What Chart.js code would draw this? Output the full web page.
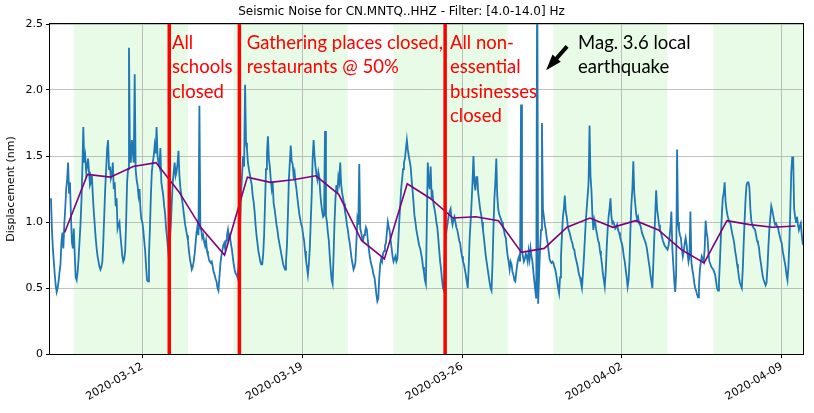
<!DOCTYPE html>
<html><head><meta charset="utf-8">
<script src="https://cdn.jsdelivr.net/npm/chart.js@4.4.0/dist/chart.umd.min.js"></script>
<style>html,body{margin:0;padding:0;background:#fff}canvas{display:block}</style>
</head><body>
<canvas id="c" width="814" height="413"></canvas>
<script>
// ---------------- data ----------------
const chartTitle = 'Seismic Noise for CN.MNTQ..HHZ - Filter: [4.0-14.0] Hz';
const yAxisLabel = 'Displacement (nm)';
// x values are days relative to 2020-03-12 00:00
const tickDays = [0, 7, 14, 21, 28];
const tickLabels = ['2020-03-12', '2020-03-19', '2020-03-26', '2020-04-02', '2020-04-09'];
const xRange = [-4.042, 28.93];
const yRange = [0, 2.5];
const yStep = 0.5;

// hourly noise starting 2020-03-08 00:00 (one row per day)
const noiseStartDay = -4;
const noiseStepHours = 1;
const noise = [
  1.18,0.95,0.80,0.70,0.60,0.52,0.47,0.50,0.55,0.62,0.68,0.85,0.92,0.80,0.98,1.10,1.25,1.32,1.45,1.22,1.30,1.05,0.85,0.80, // 03-08
  0.95,0.75,0.58,0.56,0.62,0.72,0.85,0.98,1.15,1.40,1.72,1.45,1.50,1.38,1.42,1.48,1.38,1.28,1.30,1.35,1.20,1.08,0.98,0.88, // 03-09
  0.80,0.74,0.70,0.66,0.64,0.66,0.70,0.85,1.05,1.25,1.40,1.55,1.62,1.40,1.42,1.33,1.36,1.45,1.25,1.30,1.12,1.18,0.95,0.98, // 03-10
  1.00,0.90,0.82,0.74,0.70,0.72,0.78,1.00,1.30,1.40,2.32,1.50,1.45,1.62,1.55,1.45,2.12,1.40,1.32,1.28,1.20,1.25,1.10,1.02, // 03-11
  1.00,0.94,0.86,0.78,0.66,0.56,0.55,0.75,0.95,1.20,1.38,1.45,1.50,1.58,1.52,1.72,1.50,1.45,1.42,1.56,1.30,1.25,1.20,1.12, // 03-12
  1.06,0.95,0.88,0.80,0.72,0.85,0.98,1.15,1.30,1.38,1.45,1.35,1.38,1.44,1.54,1.35,1.26,1.20,1.16,1.10,1.04,0.98,0.94,0.90, // 03-13
  0.86,0.78,0.72,0.68,0.64,0.66,0.70,0.76,0.84,0.92,0.97,0.90,1.88,0.95,0.94,0.88,0.90,0.85,0.82,0.86,0.78,0.75,0.72,0.70, // 03-14
  0.69,0.70,0.66,0.62,0.60,0.57,0.55,0.50,0.48,0.58,0.68,0.74,0.78,0.82,0.84,0.80,0.86,0.90,0.94,0.88,0.90,0.84,0.80,0.74, // 03-15
  0.68,0.64,0.61,0.60,0.58,0.66,0.80,1.02,1.25,1.38,1.50,1.42,2.04,1.60,1.55,1.45,1.40,1.36,1.32,1.28,1.20,1.15,1.08,0.98, // 03-16
  0.90,0.84,0.78,0.74,0.70,0.68,0.68,0.75,0.90,1.15,1.40,1.52,1.65,1.48,1.42,1.32,1.25,1.30,1.14,1.10,1.04,0.98,0.94,0.88, // 03-17
  0.84,0.80,0.76,0.72,0.68,0.66,0.64,0.70,0.82,1.05,1.32,1.45,1.58,1.46,1.44,1.35,1.38,1.30,1.25,1.18,1.12,1.06,1.02,0.98, // 03-18
  0.96,0.90,0.86,0.78,0.71,0.66,0.60,0.68,0.80,1.00,1.20,1.48,1.62,1.50,1.42,1.36,1.32,1.38,1.34,1.22,1.14,1.08,1.04,1.05, // 03-19
  1.69,1.05,1.00,0.92,0.86,0.74,0.64,0.56,0.53,0.75,1.00,1.18,1.28,1.22,1.34,1.30,1.45,1.28,1.22,1.18,1.14,1.08,1.04,0.98, // 03-20
  0.94,0.88,0.84,0.78,0.72,0.68,0.64,0.66,0.70,0.85,1.02,0.98,1.44,0.95,0.92,0.88,0.86,0.90,0.92,0.96,0.94,0.86,0.80,0.74, // 03-21
  0.70,0.67,0.64,0.60,0.58,0.52,0.45,0.40,0.42,0.58,0.68,0.72,0.70,0.76,0.78,0.82,0.84,0.92,1.00,0.96,0.93,0.86,0.80,0.74, // 03-22
  0.70,0.72,0.74,0.70,0.72,0.85,1.00,1.12,1.25,1.32,1.40,1.45,1.48,1.55,1.62,1.55,1.50,1.46,1.42,1.32,1.24,1.15,1.05,1.00, // 03-23
  0.94,0.90,0.86,0.82,0.80,0.76,0.72,0.66,0.62,0.56,0.53,1.00,1.45,1.30,1.25,1.42,1.20,1.22,1.14,1.10,1.06,1.00,0.96,0.88, // 03-24
  0.79,0.70,0.64,0.56,0.50,0.48,0.80,0.90,0.95,1.00,1.05,1.08,1.10,1.02,0.98,1.02,1.04,1.00,0.96,0.94,0.90,0.86,0.84,0.78, // 03-25
  0.74,0.70,0.68,0.64,0.60,0.55,0.50,0.66,0.88,1.00,1.14,1.30,1.50,1.30,1.24,1.34,1.34,1.22,1.16,1.10,1.06,1.00,0.94,0.88, // 03-26
  0.81,0.74,0.69,0.64,0.59,0.54,0.50,0.48,0.68,0.95,1.18,1.30,1.48,1.20,1.10,1.06,1.04,1.02,1.00,0.96,0.94,0.90,0.88,0.80, // 03-27
  0.74,0.70,0.64,0.70,0.68,0.62,0.60,0.56,0.55,0.62,0.68,0.72,0.74,0.70,1.89,0.78,0.74,0.70,0.72,0.76,0.74,0.70,0.78,0.72, // 03-28
  0.80,0.74,0.70,0.62,0.55,0.48,0.42,3.00,0.38,0.60,0.80,0.94,1.75,1.10,1.04,0.98,0.94,0.88,0.84,0.78,0.72,0.70,0.69,0.70, // 03-29
  0.69,0.66,0.64,0.60,0.55,0.50,0.46,0.58,0.74,0.90,1.04,1.10,1.20,1.08,1.04,0.98,0.94,0.92,0.89,0.86,0.84,0.80,0.79,0.74, // 03-30
  0.71,0.68,0.64,0.60,0.58,0.54,0.50,0.60,0.72,0.86,1.00,1.10,1.20,1.30,1.73,1.35,1.24,1.05,0.94,1.02,0.99,0.94,0.90,0.86, // 03-31
  0.84,0.78,0.74,0.68,0.61,0.56,0.51,0.62,0.80,0.94,1.04,1.10,1.18,1.04,0.99,1.00,0.98,0.95,0.96,0.98,0.94,0.92,0.89,0.86, // 04-01
  0.84,0.80,0.74,0.70,0.64,0.58,0.51,0.56,0.70,0.95,1.14,1.25,1.46,1.22,1.14,1.06,1.02,1.04,0.99,0.98,0.96,0.92,0.90,0.88, // 04-02
  0.86,0.84,0.81,0.76,0.71,0.66,0.60,0.55,0.50,0.68,0.88,1.05,1.24,1.10,1.04,0.98,0.94,0.92,0.89,0.86,0.84,0.82,0.81,0.80, // 04-03
  0.79,0.82,0.88,0.96,1.08,0.80,0.68,0.56,0.47,0.60,1.55,1.00,0.94,0.90,0.88,0.80,0.74,0.78,0.84,0.88,0.83,0.76,0.70,0.74, // 04-04
  1.08,0.70,0.64,0.60,0.54,0.50,0.48,0.45,0.43,0.52,0.64,0.70,0.74,0.72,0.70,0.80,1.01,0.92,0.88,0.76,0.70,0.68,0.66,0.65, // 04-05
  0.64,0.62,0.60,0.55,0.50,0.48,0.54,0.70,0.88,1.05,1.18,1.22,1.30,1.15,1.09,1.05,1.02,1.00,0.99,0.95,0.91,0.88,0.84,0.78, // 04-06
  0.74,0.68,0.64,0.58,0.54,0.52,0.50,0.64,0.84,1.02,1.18,1.28,1.30,1.30,1.26,1.10,1.01,0.98,0.96,0.95,0.94,0.90,0.86,0.84, // 04-07
  0.81,0.74,0.69,0.64,0.59,0.56,0.54,0.52,0.54,0.66,0.82,0.95,1.04,1.12,1.09,1.05,1.01,0.98,0.99,0.97,0.96,0.92,0.89,0.86, // 04-08
  0.84,0.78,0.74,0.70,0.66,0.60,0.56,0.66,0.84,1.10,1.38,1.49,1.49,1.10,1.04,1.00,1.04,0.98,0.94,0.97,0.99,0.90,0.84,0.85  // 04-09
];

// daily means, one per day from 2020-03-08
const dailyMeanStartDay = -4;
const dailyMeanTimeOfDay = 0.6;
const dailyMean = [0.92, 1.36, 1.34, 1.42, 1.45, 1.23, 0.95, 0.75, 1.34, 1.30, 1.32,
                   1.35, 1.21, 0.86, 0.72, 1.29, 1.18, 1.03, 1.04, 1.01, 0.77, 0.80,
                   0.96, 1.03, 0.96, 1.01, 0.94, 0.79, 0.69, 1.01, 0.98, 0.96, 0.97];

// weekday (Mon-Fri) bands, [start, end] in days
const weekdayBands = [[-3, 2], [4, 9], [11, 16], [18, 23], [25, 30]];
// closure events
const eventDays = [1.18, 4.25, 13.26];
const eventLabels = [
  ['All', 'schools', 'closed'],
  ['Gathering places closed,', 'restaurants @ 50%'],
  ['All non-', 'essential', 'businesses', 'closed']
];
const quakeLabel = ['Mag. 3.6 local', 'earthquake'];

// ---------------- presentation ----------------
const annotations = [
  { lines: eventLabels[0], x: 1.30, y: 2.356, color: '#ff0000' },
  { lines: eventLabels[1], x: 4.57, y: 2.356, color: '#ff0000' },
  { lines: eventLabels[2], x: 13.47, y: 2.356, color: '#ff0000' },
  { lines: quakeLabel, x: 19.08, y: 2.356, color: '#000000' }
];
const arrow = { tail: [18.6, 2.33], tip: [17.68, 2.15] };

const bandsPlugin = {
  id: 'bands',
  beforeDraw(chart) {
    const { ctx, chartArea: a, scales: { x } } = chart;
    ctx.save();
    ctx.fillStyle = 'rgba(144,238,144,0.22)';
    weekdayBands.forEach(([s, e]) => {
      const x1 = Math.max(a.left, x.getPixelForValue(s));
      const x2 = Math.min(a.right, x.getPixelForValue(e));
      if (x2 > x1) ctx.fillRect(x1, a.top, x2 - x1, a.bottom - a.top);
    });
    ctx.restore();
  }
};

const framePlugin = {
  id: 'frame',
  afterDatasetsDraw(chart) {
    const { ctx, chartArea: a, scales: { x, y } } = chart;
    ctx.save();
    ctx.strokeStyle = '#000';
    ctx.lineWidth = 1;
    ctx.strokeRect(Math.round(a.left) - 0.5, Math.round(a.top) - 0.5,
                   Math.round(a.right - a.left) + 1, Math.round(a.bottom - a.top) + 1);
    ctx.font = '18.5px Lato';
    ctx.textBaseline = 'middle';
    ctx.textAlign = 'left';
    annotations.forEach(an => {
      ctx.fillStyle = an.color;
      const px = x.getPixelForValue(an.x);
      const py = y.getPixelForValue(an.y);
      an.lines.forEach((t, i) => ctx.fillText(t, px, py + i * 24.5));
    });
    const tx = x.getPixelForValue(arrow.tip[0]), ty = y.getPixelForValue(arrow.tip[1]);
    const sx = x.getPixelForValue(arrow.tail[0]), sy = y.getPixelForValue(arrow.tail[1]);
    const ang = Math.atan2(ty - sy, tx - sx);
    const len = Math.hypot(tx - sx, ty - sy);
    const headLen = 16, headW = 11, shaftW = 4;
    ctx.translate(sx, sy);
    ctx.rotate(ang);
    ctx.fillStyle = '#000';
    ctx.beginPath();
    ctx.moveTo(0, -shaftW / 2);
    ctx.lineTo(len - headLen, -shaftW / 2);
    ctx.lineTo(len - headLen, -headW / 2);
    ctx.lineTo(len, 0);
    ctx.lineTo(len - headLen, headW / 2);
    ctx.lineTo(len - headLen, shaftW / 2);
    ctx.lineTo(0, shaftW / 2);
    ctx.closePath();
    ctx.fill();
    ctx.restore();
  }
};

const datasets = [];
eventDays.forEach(d => datasets.push({
  data: [{ x: d, y: yRange[0] }, { x: d, y: yRange[1] }],
  borderColor: '#ff0000', borderWidth: 3.5, pointRadius: 0, clip: 0, order: 0
}));
datasets.push({
  data: dailyMean.map((v, i) => ({ x: dailyMeanStartDay + i + dailyMeanTimeOfDay, y: v })),
  borderColor: '#800080', borderWidth: 1.6, pointRadius: 0, clip: 0, order: 1
});
datasets.push({
  data: noise.map((v, i) => ({ x: noiseStartDay + i * noiseStepHours / 24, y: v })),
  borderColor: '#1f77b4', borderWidth: 1.8, pointRadius: 0, clip: 0, order: 2
});

const tickFont = { family: 'DejaVu Sans', size: 11 };

new Chart(document.getElementById('c'), {
  type: 'line',
  data: { datasets },
  plugins: [bandsPlugin, framePlugin],
  options: {
    responsive: false,
    animation: false,
    devicePixelRatio: 1,
    layout: { padding: { left: 0, right: 11, top: 0, bottom: 0 } },
    plugins: {
      legend: { display: false },
      tooltip: { enabled: false },
      title: {
        display: true, text: chartTitle, color: '#000',
        font: { family: 'DejaVu Sans', size: 12, weight: 'normal', lineHeight: 1.2 },
        padding: { top: 5, bottom: 4.6 }
      }
    },
    elements: { line: { tension: 0 } },
    scales: {
      x: {
        type: 'linear', min: xRange[0], max: xRange[1],
        afterFit: s => { s.height = 59; },
        afterBuildTicks: s => { s.ticks = tickDays.map(v => ({ value: v })); },
        ticks: {
          autoSkip: false, maxRotation: 30, minRotation: 30, padding: 2,
          color: '#000', font: tickFont,
          callback: (v) => { const i = tickDays.indexOf(v); return i >= 0 ? tickLabels[i] : ''; }
        },
        grid: { color: '#b0b0b0', lineWidth: 0.8, tickLength: 4, tickColor: '#000', tickWidth: 1 },
        border: { display: false }
      },
      y: {
        min: yRange[0], max: yRange[1],
        afterFit: s => { s.width = 50; },
        ticks: { stepSize: yStep, color: '#000', font: tickFont, padding: 3 },
        grid: { color: '#b0b0b0', lineWidth: 0.8, tickLength: 4, tickColor: '#000', tickWidth: 1 },
        border: { display: false },
        title: { display: true, text: yAxisLabel, color: '#000', font: tickFont, padding: { top: 5, bottom: 0 } }
      }
    }
  }
});
</script>
</body></html>
